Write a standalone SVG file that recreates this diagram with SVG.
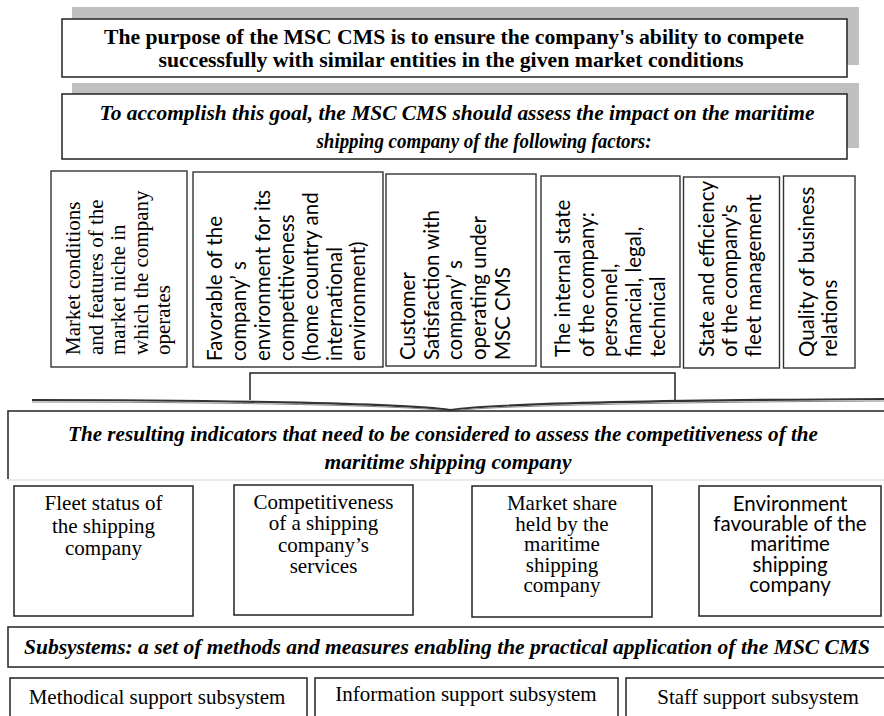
<svg xmlns="http://www.w3.org/2000/svg" width="884" height="716" viewBox="0 0 884 716">
<style>
.bg{fill:#fff}
.shadow{fill:#c0c0c0}
.box{fill:#fff;stroke:#222;stroke-width:1.5}
.fbox{fill:#fff;stroke:#333;stroke-width:1.4}
.line{fill:none;stroke:#222;stroke-width:1.5}
.tb{font-family:"Liberation Serif",serif;font-weight:bold;font-size:21px;fill:#000}
.ti{font-family:"Liberation Serif",serif;font-weight:bold;font-style:italic;font-size:22px;fill:#000}
.sr{font-family:"Liberation Serif",serif;font-size:21px;fill:#000}
.ss{font-family:Lato,"Open Sans",sans-serif;font-size:20.5px;fill:#000}
.c{text-anchor:middle}
</style>
<rect class="bg" x="0" y="0" width="884" height="716"/>

<g id="goal">
  <rect class="shadow" x="72" y="7" width="787" height="58"/>
  <rect class="box" x="62" y="19" width="785" height="58"/>
  <text class="tb c" x="454" y="44" textLength="700" lengthAdjust="spacingAndGlyphs">The purpose of the MSC CMS is to ensure the company's ability to compete</text>
  <text class="tb c" x="451" y="67" textLength="585" lengthAdjust="spacingAndGlyphs">successfully with similar entities in the given market conditions</text>
</g>

<g id="task">
  <rect class="shadow" x="72" y="83" width="787" height="65"/>
  <rect class="box" x="62" y="94" width="785" height="65"/>
  <text class="ti c" x="457" y="120" textLength="715" lengthAdjust="spacingAndGlyphs">To accomplish this goal, the MSC CMS should assess the impact on the maritime</text>
  <text class="ti c" x="484" y="148" textLength="335" lengthAdjust="spacingAndGlyphs">shipping company of the following factors:</text>
</g>

<g id="factor-market">
  <rect class="fbox" x="51" y="171" width="136" height="196"/>
  <g transform="translate(80,355) rotate(-90)">
    <text class="sr" x="0" y="0">Market conditions<tspan x="0" dy="22.5">and features of the</tspan><tspan x="0" dy="22.5">market niche in</tspan><tspan x="0" dy="22.5">which the company</tspan><tspan x="0" dy="22.5">operates</tspan></text>
  </g>
</g>

<g id="factor-environment">
  <rect class="fbox" x="193" y="172" width="190" height="195"/>
  <g transform="translate(222,361) rotate(-90)">
    <text class="ss" x="0" y="0">Favorable of the<tspan x="0" dy="23.9">company’ s</tspan><tspan x="0" dy="23.9">environment for its</tspan><tspan x="0" dy="23.9">competitiveness</tspan><tspan x="0" dy="23.9">(home country and</tspan><tspan x="0" dy="23.9">international</tspan><tspan x="0" dy="23.9">environment)</tspan></text>
  </g>
</g>

<g id="factor-customer">
  <rect class="fbox" x="386" y="174" width="150" height="192"/>
  <g transform="translate(415,360) rotate(-90)">
    <text class="ss" x="0" y="0">Customer<tspan x="0" dy="23.7">Satisfaction with</tspan><tspan x="0" dy="23.7">company’ s</tspan><tspan x="0" dy="23.7">operating under</tspan><tspan x="0" dy="23.7">MSC CMS</tspan></text>
  </g>
</g>

<g id="factor-internal">
  <rect class="fbox" x="541" y="176" width="139" height="191"/>
  <g transform="translate(570,357) rotate(-90)">
    <text class="ss" x="0" y="0">The internal state<tspan x="0" dy="23.7">of the company:</tspan><tspan x="0" dy="23.7">personnel,</tspan><tspan x="0" dy="23.7">financial, legal,</tspan><tspan x="0" dy="23.7">technical</tspan></text>
  </g>
</g>

<g id="factor-fleet">
  <rect class="fbox" x="683.5" y="177" width="96" height="191"/>
  <g transform="translate(713.5,357) rotate(-90)">
    <text class="ss" x="0" y="0">State and efficiency<tspan x="0" dy="23.5">of the company's</tspan><tspan x="0" dy="23.5">fleet management</tspan></text>
  </g>
</g>

<g id="factor-relations">
  <rect class="fbox" x="783.5" y="176" width="71.5" height="192"/>
  <g transform="translate(813.5,357) rotate(-90)">
    <text class="ss" x="0" y="0">Quality of business<tspan x="0" dy="23.4">relations</tspan></text>
  </g>
</g>

<g id="connectors">
  <path class="line" d="M250,400 V373 H675 V400"/>
  <path fill="none" stroke="#333" stroke-width="2.2" d="M32,400 C200,400 400,403 450,410 C500,403 700,400 884,399"/>
  <path fill="none" stroke="#888" stroke-width="1" d="M32,402 C200,402 400,405 450,411 C500,405 700,402 884,401"/>
</g>

<g id="result">
  <path class="line" d="M884,411 H8 V479"/>
  <path fill="none" stroke="#e2e2e2" stroke-width="1.5" d="M8,480 H884"/>
  <text class="ti c" x="443" y="441" textLength="750" lengthAdjust="spacingAndGlyphs">The resulting indicators that need to be considered to assess the competitiveness of the</text>
  <text class="ti c" x="448" y="469" textLength="247" lengthAdjust="spacingAndGlyphs">maritime shipping company</text>
</g>

<g id="ind-fleet">
  <rect class="box" x="14" y="486" width="179" height="130"/>
  <text class="sr c" x="103.5" y="510">Fleet status of<tspan x="103.5" dy="22.5">the shipping</tspan><tspan x="103.5" dy="22.5">company</tspan></text>
</g>

<g id="ind-services">
  <rect class="box" x="234" y="485" width="179" height="130"/>
  <text class="sr c" x="323.5" y="509">Competitiveness<tspan x="323.5" dy="21.3">of a shipping</tspan><tspan x="323.5" dy="21.3">company’s</tspan><tspan x="323.5" dy="21.3">services</tspan></text>
</g>

<g id="ind-share">
  <rect class="box" x="472" y="486" width="180" height="131"/>
  <text class="sr c" x="562" y="510">Market share<tspan x="562" dy="20.5">held by the</tspan><tspan x="562" dy="20.5">maritime</tspan><tspan x="562" dy="20.5">shipping</tspan><tspan x="562" dy="20.5">company</tspan></text>
</g>

<g id="ind-environment">
  <rect class="box" x="699" y="486" width="182" height="130"/>
  <text class="ss c" x="790" y="511">Environment<tspan x="790" dy="20.2">favourable of the</tspan><tspan x="790" dy="20.2">maritime</tspan><tspan x="790" dy="20.2">shipping</tspan><tspan x="790" dy="20.2">company</tspan></text>
</g>

<g id="subsystems">
  <rect class="box" x="8" y="627" width="877" height="40"/>
  <text class="ti c" x="447" y="654" style="font-size:20px" textLength="846" lengthAdjust="spacingAndGlyphs">Subsystems: a set of methods and measures enabling the practical application of the MSC CMS</text>
</g>

<g id="sub-methodical">
  <rect class="box" x="10" y="678" width="297" height="50"/>
  <text class="sr c" x="157" y="704">Methodical support subsystem</text>
</g>

<g id="sub-information">
  <rect class="box" x="315" y="678" width="303" height="50"/>
  <text class="sr c" x="466" y="701">Information support subsystem</text>
</g>

<g id="sub-staff">
  <rect class="box" x="626" y="678" width="270" height="50"/>
  <text class="sr c" x="758" y="704">Staff support subsystem</text>
</g>
</svg>
